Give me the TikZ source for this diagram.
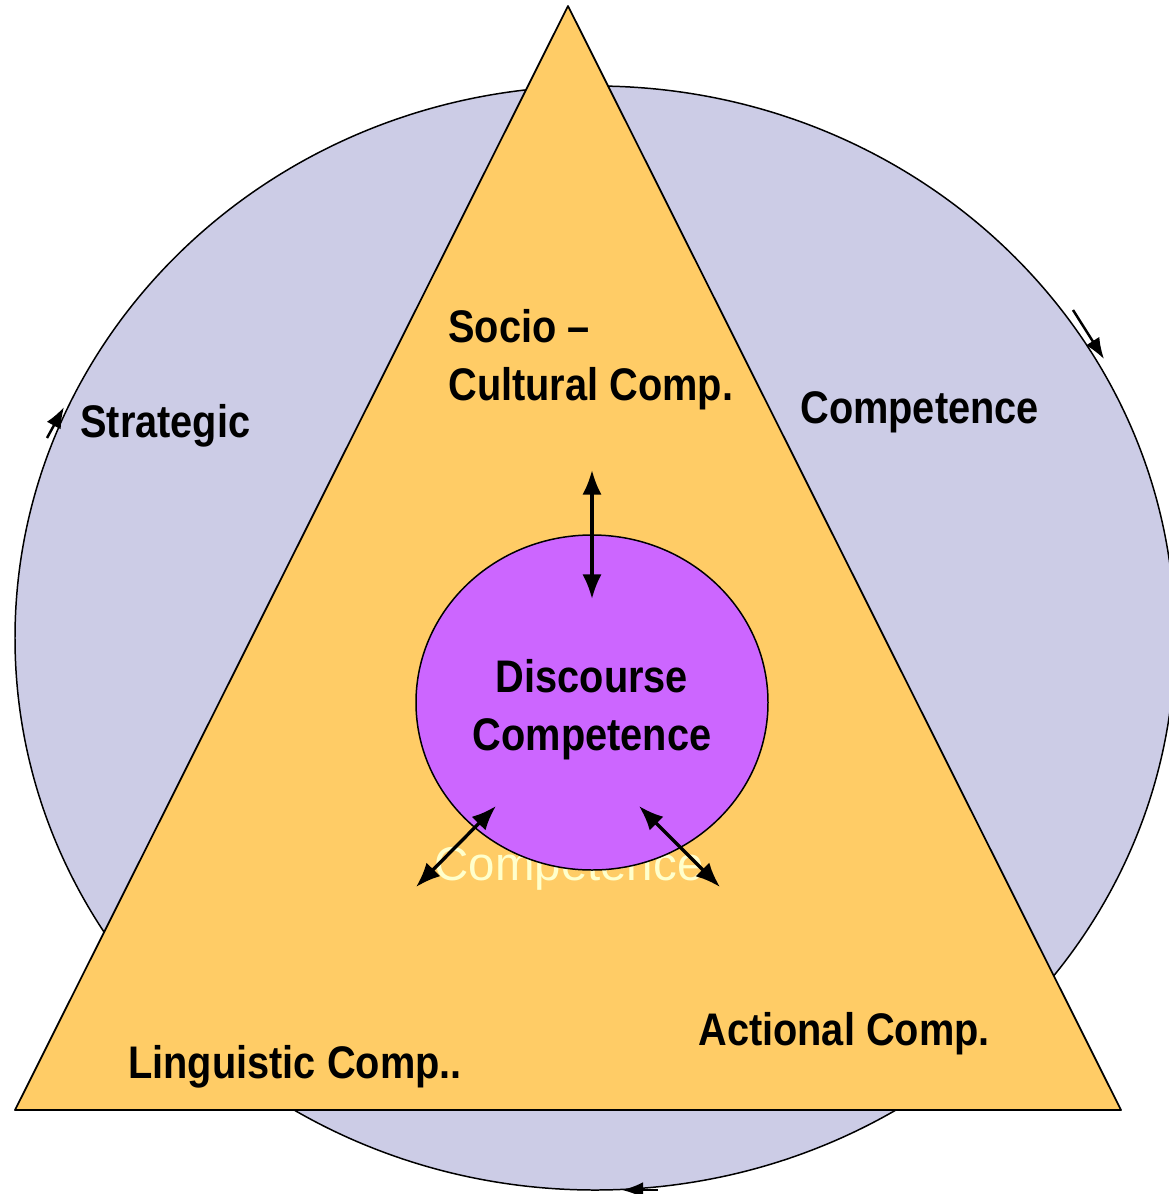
\documentclass[tikz,border=0pt]{standalone}
\usepackage{fontspec}
\setmainfont{Liberation Sans}
\newfontfamily\narrowfont[FakeStretch=0.87]{Liberation Sans}
\usetikzlibrary{arrows.meta}

\definecolor{outerfill}{RGB}{204,204,230}
\definecolor{trianglefill}{RGB}{255,204,102}
\definecolor{discoursefill}{RGB}{204,102,255}
\definecolor{ghosttext}{RGB}{255,255,204}

\begin{document}
\begin{tikzpicture}[x=0.02cm,y=-0.02cm,
    compname/.style={font=\narrowfont\bfseries\fontsize{26}{32.5}\selectfont,inner sep=0},
    link/.style={line width=1.9pt,{Latex[length=14pt,width=11pt]}-{Latex[length=14pt,width=11pt]}},
    turn/.style={line width=1.4pt,-{Latex[length=12pt,width=9pt]}}]
    \pgfmathsetmacro{\outerrx}{580}
    \pgfmathsetmacro{\outerry}{552}
    \pgfmathsetmacro{\innerrx}{176}
    \pgfmathsetmacro{\innerry}{167.5}
    \useasboundingbox (0,0) rectangle (1169,1194);
    % strategic circle
    \draw[line width=0.85pt,fill=outerfill] (595,638) ellipse [x radius=\outerrx,y radius=\outerry];
    \draw[turn] (47,438) -- (64,407);
    \draw[turn] (1073,310) -- (1104,359);
    \draw[turn] (658,1190) -- (622,1190);
    % triangle
    \coordinate (apex) at (568,6);
    \coordinate (rightcorner) at (1121,1110);
    \coordinate (leftcorner) at (15,1110);
    \draw[line width=1pt,line join=round,fill=trianglefill] (apex) -- (rightcorner) -- (leftcorner) -- cycle;
    \node[font=\fontsize{27}{32}\selectfont,text=ghosttext,inner sep=0,anchor=base] (ghost) at (569,880) {Competence};
    % discourse circle
    \draw[line width=0.85pt,fill=discoursefill] (592,702.5) ellipse [x radius=\innerrx,y radius=\innerry];
    \node[compname,align=center,anchor=base] (discourse) at (592,750) {Discourse\\Competence};
    \node[compname,anchor=base west] (strategic) at (80,437) {Strategic};
    \node[compname,anchor=base west] (competence) at (800,423) {Competence};
    \node[compname,align=left,anchor=base west] (socio) at (448,400) {Socio –\\Cultural Comp.};
    \node[compname,anchor=base west] (linguistic) at (128,1078) {Linguistic Comp..};
    \node[compname,anchor=base west] (actional) at (698,1045) {Actional Comp.};
    \coordinate (sociotip) at (592,470);
    \coordinate (discoursetop) at (592,599);
    \coordinate (linguistictip) at (416,887);
    \coordinate (discourseleft) at (496,806);
    \coordinate (discourseright) at (639,806);
    \coordinate (actionaltip) at (720,887);
    \draw[link] (sociotip) -- (discoursetop);
    \draw[link] (linguistictip) -- (discourseleft);
    \draw[link] (discourseright) -- (actionaltip);
\end{tikzpicture}
\end{document}
